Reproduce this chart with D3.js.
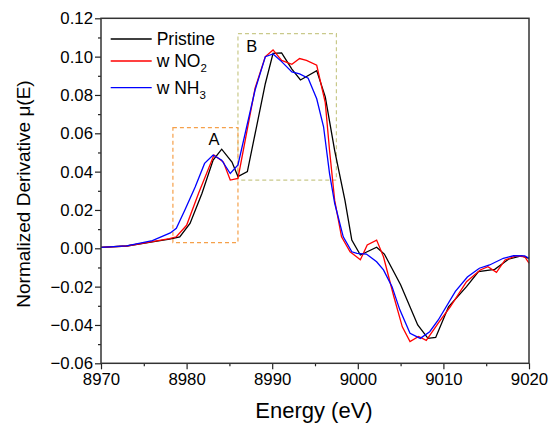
<!DOCTYPE html>
<html>
<head>
<meta charset="utf-8">
<script src="https://cdn.jsdelivr.net/npm/d3@7"></script>
<style>
  html, body { margin: 0; padding: 0; background: #fff; }
  svg { display: block; font-family: "Liberation Sans", Arial, sans-serif; }
</style>
</head>
<body>
<svg id="chart" width="549" height="425"></svg>
<script>
// Derivative XANES spectra: energy (eV) and normalized derivative values
const pristineE = [8970, 8973, 8976, 8978, 8979.2, 8980.4, 8981.8, 8983.1, 8984.1, 8985.3, 8986.0, 8987.1, 8989.2, 8990.1, 8991.1, 8992.3, 8993.3, 8995.2, 8996.2, 8997.3, 8998.5, 8999.3, 9000.3, 9002.2, 9003.1, 9005.0, 9007.0, 9008.2, 9009.1, 9010.6, 9012.7, 9014.1, 9016.0, 9017.6, 9019.1, 9020];
const pristineV = [0.0005, 0.0012, 0.0033, 0.0048, 0.006, 0.013, 0.0287, 0.046, 0.0517, 0.045, 0.0374, 0.040, 0.086, 0.1017, 0.102, 0.0935, 0.0878, 0.0927, 0.079, 0.051, 0.025, 0.0043, -0.0035, 0.0006, -0.003, -0.019, -0.040, -0.047, -0.0465, -0.0305, -0.020, -0.0122, -0.011, -0.0057, -0.004, -0.0052];

const no2E = [8970, 8973, 8976, 8978, 8978.8, 8980.0, 8981.4, 8983.2, 8984.3, 8985.1, 8986.0, 8988.0, 8989.2, 8990.1, 8991.1, 8992.3, 8993.2, 8994.0, 8995.2, 8996.2, 8996.7, 8997.3, 8998.1, 8999.1, 9000.3, 9001.1, 9002.2, 9003.0, 9004.2, 9005.2, 9006.1, 9007.1, 9008.0, 9009.4, 9010.8, 9012.7, 9014.3, 9015.2, 9016.2, 9017.2, 9018.5, 9019.5, 9020];
const no2V = [0.0005, 0.0012, 0.0035, 0.005, 0.006, 0.012, 0.0287, 0.0487, 0.045, 0.0356, 0.0365, 0.0835, 0.100, 0.1035, 0.098, 0.096, 0.099, 0.098, 0.0955, 0.076, 0.051, 0.025, 0.006, -0.0018, -0.006, 0.0017, 0.0043, -0.0044, -0.025, -0.041, -0.0487, -0.046, -0.048, -0.039, -0.0305, -0.0174, -0.0113, -0.0096, -0.0125, -0.0061, -0.004, -0.0044, -0.0078];

const nh3E = [8970, 8973, 8976, 8978.1, 8978.8, 8979.8, 8981.0, 8982.1, 8983.1, 8984.1, 8985.1, 8986.0, 8988.0, 8989.2, 8990.1, 8991.1, 8992.3, 8993.2, 8994.2, 8995.2, 8996.0, 8996.7, 8997.3, 8998.3, 8999.3, 8999.9, 9001.0, 9002.2, 9003.0, 9004.0, 9004.9, 9006.1, 9007.3, 9008.4, 9009.4, 9011.4, 9012.8, 9014.2, 9015.4, 9017.0, 9018.2, 9019.5, 9020];
const nh3V = [0.0005, 0.0013, 0.004, 0.008, 0.0104, 0.020, 0.032, 0.0443, 0.0487, 0.046, 0.039, 0.0435, 0.0826, 0.100, 0.1014, 0.0974, 0.092, 0.091, 0.0887, 0.078, 0.0634, 0.039, 0.0235, 0.006, -0.0018, -0.0026, -0.003, -0.007, -0.0113, -0.020, -0.032, -0.0443, -0.047, -0.0435, -0.0374, -0.0225, -0.015, -0.0104, -0.0087, -0.0052, -0.0039, -0.004, -0.0052];

const seriesNames = ["Pristine", "w NO", "w NH"];
const seriesSubs = ["", "2", "3"];
const seriesColors = ["#000000", "#ff0000", "#0000ff"];

const xTicks = [8970, 8980, 8990, 9000, 9010, 9020];
const yTicks = [-0.06, -0.04, -0.02, 0.00, 0.02, 0.04, 0.06, 0.08, 0.10, 0.12];

// Highlighted regions: [E0, E1, v0, v1]
const boxA = [8978.4, 8986.0, 0.003, 0.063];
const boxB = [8986.0, 8997.5, 0.0356, 0.112];

const svg = d3.select("#chart");
const m = { left: 101, top: 18.3, right: 529, bottom: 363.3 };

const x = d3.scaleLinear().domain([8970, 9020]).range([m.left, m.right]);
const y = d3.scaleLinear().domain([-0.06, 0.12]).range([m.bottom, m.top]);

// Dashed region boxes
function drawBox(b, color) {
  svg.append("rect")
    .attr("x", x(b[0])).attr("y", y(b[3]))
    .attr("width", x(b[1]) - x(b[0])).attr("height", y(b[2]) - y(b[3]))
    .attr("fill", "none").attr("stroke", color)
    .attr("stroke-width", 1.2).attr("stroke-dasharray", "4,3");
}
drawBox(boxB, "#c9c98a");
drawBox(boxA, "#f5a04a");

svg.append("text").attr("x", x(8983.2)).attr("y", y(0.0539))
  .attr("text-anchor", "middle").attr("font-size", 16.5).attr("fill", "#000").text("A");
svg.append("text").attr("x", x(8987.6)).attr("y", y(0.1024))
  .attr("text-anchor", "middle").attr("font-size", 16.5).attr("fill", "#000").text("B");

// Spectra
const line = d3.line().x(d => x(d[0])).y(d => y(d[1]));
const allSeries = [
  d3.zip(pristineE, pristineV),
  d3.zip(no2E, no2V),
  d3.zip(nh3E, nh3V)
];
allSeries.forEach((pts, i) => {
  svg.append("path").datum(pts)
    .attr("d", line).attr("fill", "none")
    .attr("stroke", seriesColors[i]).attr("stroke-width", 1.3)
    .attr("stroke-linejoin", "miter");
});

// Axes
const xAxis = d3.axisBottom(x).tickValues(xTicks).tickSize(6).tickPadding(4).tickFormat(d3.format("d"));
const yAxis = d3.axisLeft(y).tickValues(yTicks).tickSize(6).tickPadding(2).tickFormat(d3.format(".2f"));
const xMinor = d3.axisBottom(x).tickValues(d3.range(8975, 9020, 10)).tickSize(3).tickFormat("");
const yMinor = d3.axisLeft(y).tickValues(d3.range(-0.05, 0.12, 0.02)).tickSize(3).tickFormat("");

function styleAxis(g) {
  g.select(".domain").remove();
  g.selectAll("line").attr("stroke", "#222").attr("stroke-width", 1.2);
  g.selectAll("text").attr("font-size", 16.8).attr("fill", "#000")
    .attr("font-family", "Liberation Sans, Arial, sans-serif");
}
svg.append("g").attr("transform", `translate(0,${m.bottom})`).call(xAxis).call(styleAxis);
svg.append("g").attr("transform", `translate(0,${m.bottom})`).call(xMinor).call(styleAxis);
svg.append("g").attr("transform", `translate(${m.left},0)`).call(yAxis).call(styleAxis);
svg.append("g").attr("transform", `translate(${m.left},0)`).call(yMinor).call(styleAxis);

// Frame
svg.append("rect")
  .attr("x", m.left).attr("y", m.top)
  .attr("width", m.right - m.left).attr("height", m.bottom - m.top)
  .attr("fill", "none").attr("stroke", "#333").attr("stroke-width", 1.5);

// Axis titles
svg.append("text").attr("x", 314).attr("y", 418)
  .attr("text-anchor", "middle").attr("font-size", 22).attr("fill", "#000")
  .text("Energy (eV)");
svg.append("text")
  .attr("transform", `translate(30,194) rotate(-90)`)
  .attr("text-anchor", "middle").attr("font-size", 19).attr("fill", "#000")
  .text("Normalized Derivative \u03bc(E)");

// Legend
const legY = [39, 61, 87.7];
seriesNames.forEach((name, i) => {
  svg.append("line")
    .attr("x1", 110.7).attr("x2", 151.7).attr("y1", legY[i]).attr("y2", legY[i])
    .attr("stroke", seriesColors[i]).attr("stroke-width", 1.3);
  const t = svg.append("text").attr("x", 156.7).attr("y", legY[i] + 6)
    .attr("font-size", 17.5).attr("fill", "#000").text(name);
  if (seriesSubs[i]) {
    t.append("tspan").attr("dy", 5).attr("font-size", 11.5).text(seriesSubs[i]);
  }
});
</script>
</body>
</html>
